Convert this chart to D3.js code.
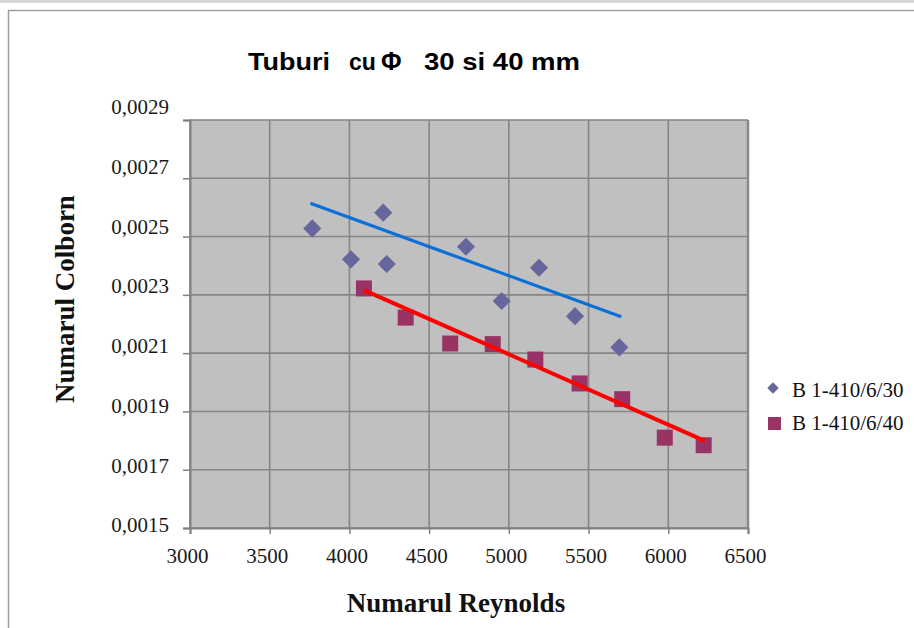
<!DOCTYPE html>
<html>
<head>
<meta charset="utf-8">
<script src="https://cdn.jsdelivr.net/npm/d3@7"></script>
<style>
  html, body { margin: 0; padding: 0; background: #ffffff; }
  svg { display: block; }
</style>
</head>
<body>
<svg id="chart" width="914" height="628"></svg>
<script>
// Colburn number vs Reynolds number for tubes of 30 and 40 mm diameter
const reynolds30 = [3767, 4010, 4212, 4234, 4731, 4955, 5189, 5415, 5693];
const colburn30  = [0.002528, 0.002422, 0.002582, 0.002406, 0.002465, 0.002279, 0.002393, 0.002227, 0.002120];

const reynolds40 = [4091, 4353, 4632, 4899, 5166, 5444, 5711, 5978, 6222];
const colburn40  = [0.002322, 0.002222, 0.002133, 0.002131, 0.002078, 0.001996, 0.001942, 0.001810, 0.001784];

// trend lines (end points)
const trendReynolds30 = [3755, 5705];
const trendColburn30  = [0.002614, 0.002225];
const trendReynolds40 = [4091, 6229];
const trendColburn40  = [0.002316, 0.001799];

const xTicks = [3000, 3500, 4000, 4500, 5000, 5500, 6000, 6500];
const yTicks = [0.0015, 0.0017, 0.0019, 0.0021, 0.0023, 0.0025, 0.0027, 0.0029];
const seriesNames = ["B 1-410/6/30", "B 1-410/6/40"];
const chartTitle = ["Tuburi", "cu", "Φ", "30 si 40 mm"];
const xTitle = "Numarul Reynolds";
const yTitle = "Numarul Colborn";

const svg = d3.select("#chart");
const plot = { left: 190, right: 748, top: 120, bottom: 528 };

const x = d3.scaleLinear().domain([3000, 6500]).range([plot.left, plot.right]);
const y = d3.scaleLinear().domain([0.0015, 0.0029]).range([plot.bottom, plot.top]);
// the value labels on the left sit on a slightly wider, evenly spaced band
const yLabel = d3.scaleLinear().domain([0.0015, 0.0029]).range([525, 107]);

const serif = "'Liberation Serif', 'Times New Roman', serif";
const sans = "'Liberation Sans', Arial, sans-serif";

// outer chart frame
svg.append("rect").attr("x", 0).attr("y", 0).attr("width", 914).attr("height", 3).attr("fill", "#d9d9d9");
svg.append("rect")
  .attr("x", 8.5).attr("y", 10.5).attr("width", 930).attr("height", 640)
  .attr("fill", "#ffffff").attr("stroke", "#a0a0a0").attr("stroke-width", 1.5);

// plot area
svg.append("rect")
  .attr("x", plot.left).attr("y", plot.top)
  .attr("width", plot.right - plot.left).attr("height", plot.bottom - plot.top)
  .attr("fill", "#c0c0c0");

// gridlines
const grid = svg.append("g").attr("stroke", "#858585").attr("stroke-width", 1.6);
grid.selectAll("line.v").data(xTicks).join("line")
  .attr("x1", d => x(d)).attr("x2", d => x(d))
  .attr("y1", plot.top).attr("y2", plot.bottom);
grid.selectAll("line.h").data(yTicks).join("line")
  .attr("x1", plot.left).attr("x2", plot.right)
  .attr("y1", d => y(d)).attr("y2", d => y(d));

// axes
const fmtY = v => d3.format(".4f")(v).replace(".", ",");
const yAxis = svg.append("g")
  .attr("transform", `translate(${plot.left},0)`)
  .call(d3.axisLeft(y).tickValues(yTicks).tickFormat(fmtY).tickSize(7).tickPadding(14));
yAxis.select(".domain").attr("stroke", "#808080").attr("stroke-width", 2);
yAxis.selectAll(".tick line").attr("stroke", "#808080").attr("stroke-width", 1.5);
yAxis.selectAll(".tick text")
  .attr("font-family", serif).attr("font-size", 21).attr("fill", "#1a1a1a")
  .attr("y", d => yLabel(d) - y(d));

const xAxis = svg.append("g")
  .attr("transform", `translate(0,${plot.bottom})`)
  .call(d3.axisBottom(x).tickValues(xTicks).tickFormat(d3.format("d")).tickSize(6).tickPadding(14));
xAxis.select(".domain").attr("stroke", "#808080").attr("stroke-width", 2);
xAxis.selectAll(".tick line").attr("stroke", "#808080").attr("stroke-width", 1.5);
xAxis.selectAll(".tick text")
  .attr("font-family", serif).attr("font-size", 21).attr("fill", "#1a1a1a")
  .attr("x", -3);

// right edge of the plot area
svg.append("line")
  .attr("x1", plot.right).attr("x2", plot.right).attr("y1", plot.top).attr("y2", plot.bottom)
  .attr("stroke", "#8a8a8a").attr("stroke-width", 2.5);

// markers
const diamond = d3.symbol().type(d3.symbolDiamond2).size(210);
const pts30 = reynolds30.map((r, i) => [r, colburn30[i]]);
const pts40 = reynolds40.map((r, i) => [r, colburn40[i]]);

svg.append("g").selectAll("path").data(pts30).join("path")
  .attr("d", diamond)
  .attr("transform", d => `translate(${x(d[0])},${y(d[1])})`)
  .attr("fill", "#66669c");

svg.append("g").selectAll("rect").data(pts40).join("rect")
  .attr("x", d => x(d[0]) - 8).attr("y", d => y(d[1]) - 8)
  .attr("width", 16).attr("height", 16)
  .attr("fill", "#993366");

// trend lines
const line = d3.line().x(d => x(d[0])).y(d => y(d[1]));
svg.append("path")
  .datum(trendReynolds30.map((r, i) => [r, trendColburn30[i]]))
  .attr("d", line).attr("fill", "none")
  .attr("stroke", "#0a6fd8").attr("stroke-width", 3.2);
svg.append("path")
  .datum(trendReynolds40.map((r, i) => [r, trendColburn40[i]]))
  .attr("d", line).attr("fill", "none")
  .attr("stroke", "#ff0000").attr("stroke-width", 4);

// title, set as separate pieces
const titleX = [248, 349, 381, 424];
const titleSize = [24, 23, 25, 24];
const titleLen = [82, null, null, 156];
svg.append("g").selectAll("text").data(chartTitle).join("text")
  .attr("x", (d, i) => titleX[i]).attr("y", 70)
  .attr("font-family", sans).attr("font-weight", "bold")
  .attr("font-size", (d, i) => titleSize[i]).attr("fill", "#000")
  .each(function (d, i) {
    if (titleLen[i]) d3.select(this).attr("textLength", titleLen[i]).attr("lengthAdjust", "spacingAndGlyphs");
  })
  .text(d => d);

// axis titles
svg.append("text")
  .attr("x", 456).attr("y", 612).attr("text-anchor", "middle")
  .attr("font-family", serif).attr("font-weight", "bold").attr("font-size", 27)
  .attr("fill", "#111").text(xTitle);
svg.append("text")
  .attr("transform", "translate(74,299) rotate(-90)").attr("text-anchor", "middle")
  .attr("font-family", serif).attr("font-weight", "bold").attr("font-size", 27)
  .attr("fill", "#111").text(yTitle);

// legend
const legend = svg.append("g");
legend.append("path")
  .attr("d", d3.symbol().type(d3.symbolDiamond2).size(85))
  .attr("transform", "translate(773,388)").attr("fill", "#66669c");
legend.append("rect")
  .attr("x", 768).attr("y", 417).attr("width", 13).attr("height", 13).attr("fill", "#993366");
legend.selectAll("text.item").data(seriesNames).join("text")
  .attr("x", 792).attr("y", (d, i) => 397 + i * 33)
  .attr("font-family", serif).attr("font-size", 21).attr("fill", "#111")
  .text(d => d);
</script>
</body>
</html>
